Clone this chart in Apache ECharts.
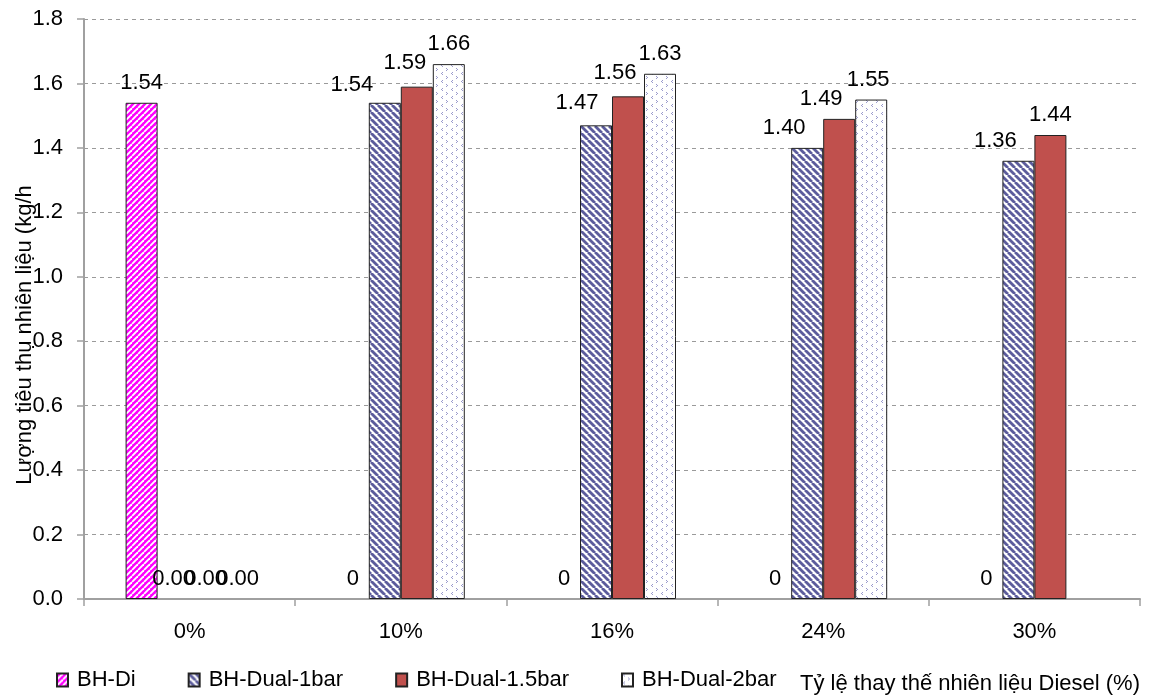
<!DOCTYPE html>
<html>
<head>
<meta charset="utf-8">
<script src="https://cdn.jsdelivr.net/npm/echarts@6/dist/echarts.min.js"></script>
<style>
html,body{margin:0;padding:0;background:#fff;}
#chart{width:1153px;height:700px;}
</style>
</head>
<body>
<div id="chart"></div>
<script>
// ---- data ----
const categories = ['0%', '10%', '16%', '24%', '30%'];
const seriesNames = ['BH-Di', 'BH-Dual-1bar', 'BH-Dual-1.5bar', 'BH-Dual-2bar'];
const valuesDi = [1.54, 0, 0, 0, 0];
const valuesDual1 = [0, 1.54, 1.47, 1.40, 1.36];
const valuesDual15 = [0, 1.59, 1.56, 1.49, 1.44];
const valuesDual2 = [0, 1.66, 1.63, 1.55, null];
const yTicks = { min: 0, max: 1.8, interval: 0.2 };
const xTitle = 'Tỷ lệ thay thế nhiên liệu Diesel (%)';
const yTitle = 'Lượng tiêu thụ nhiên liệu (kg/h';

// ---- styles (label nudges, like the hand-moved labels in the original) ----
const shiftDi = [[0,0],[0,0],[0,0],[0,0],[0,0]];
const shiftDual1 = [[0,0],[-33,2],[-19,-2],[-23,0],[-23,0]];
const shiftDual15 = [[0,0],[-12,-4],[-13,-3],[-18,0],[0,0]];
const shiftDual2 = [[0,0],[0,0],[0,0],[-3,0],[0,0]];

function makeStripe(bg, fg, dir, size, lw) {
  const c = document.createElement('canvas');
  c.width = size; c.height = size;
  const g = c.getContext('2d');
  g.fillStyle = bg; g.fillRect(0, 0, size, size);
  g.strokeStyle = fg; g.lineWidth = lw;
  for (let k = -1; k <= 1; k++) {
    g.beginPath();
    if (dir === '/') { g.moveTo(k*size, size); g.lineTo(k*size + size, 0); }
    else { g.moveTo(k*size, 0); g.lineTo(k*size + size, size); }
    g.stroke();
  }
  return { image: c, repeat: 'repeat' };
}
function makeDots() {
  const c = document.createElement('canvas');
  c.width = 10; c.height = 8;
  const g = c.getContext('2d');
  g.fillStyle = '#fff'; g.fillRect(0, 0, 10, 8);
  g.fillStyle = '#9a9acc';
  [[2,0],[1,1],[2,2],[6,4],[7,5],[6,6]].forEach(p => g.fillRect(p[0], p[1], 1, 1));
  return { image: c, repeat: 'repeat' };
}

const fills = [
  makeStripe('#ff00ff', '#ffffff', '/', 6, 1.9),
  makeStripe('#ffffff', '#5c5c9c', '\\', 7, 2.8),
  '#c0504d',
  makeDots()
];

const FONT = 'Liberation Sans';

function buildData(vals, shifts) {
  return vals.map((v, i) => {
    const d = { value: v, label: { offset: shifts[i] } };
    if (v === 0) d.itemStyle = { borderWidth: 0 };
    return d;
  });
}

const allVals = [valuesDi, valuesDual1, valuesDual15, valuesDual2];
const allShifts = [shiftDi, shiftDual1, shiftDual15, shiftDual2];

const series = seriesNames.map((name, s) => ({
  name: name,
  type: 'bar',
  barWidth: 32,
  barGap: '0%',
  data: buildData(allVals[s], allShifts[s]),
  itemStyle: { color: fills[s], borderColor: '#222', borderWidth: 1 },
  label: {
    show: true,
    position: 'top',
    distance: 9,
    color: '#000',
    fontFamily: FONT,
    fontSize: 22,
    formatter: p => {
      if (p.value === null || p.value === undefined) return '';
      if (s === 0 && p.value === 0) return '0';
      return Number(p.value).toFixed(2);
    }
  }
}));

const chart = echarts.init(document.getElementById('chart'), null, { renderer: 'canvas' });
chart.setOption({
  animation: false,
  backgroundColor: '#fff',
  grid: { left: 84, right: 13, top: 19, bottom: 101, containLabel: false },
  legend: {
    left: 51,
    top: 664,
    itemWidth: 11,
    itemHeight: 13,
    itemGap: 52,
    icon: 'rect',
    textStyle: { fontFamily: FONT, fontSize: 22, color: '#000', padding: [0, 0, 0, 4] },
    data: seriesNames
  },
  xAxis: {
    type: 'category',
    data: categories,
    axisLine: { show: true, lineStyle: { color: '#a0a0a0', width: 2 } },
    axisTick: { show: true, length: 7, alignWithLabel: false, lineStyle: { color: '#a0a0a0', width: 1.5 } },
    axisLabel: { margin: 22, fontFamily: FONT, fontSize: 22, color: '#000' },
    splitLine: { show: false }
  },
  yAxis: {
    type: 'value',
    min: yTicks.min,
    max: yTicks.max,
    interval: yTicks.interval,
    axisLine: { show: true, lineStyle: { color: '#a0a0a0', width: 2 } },
    axisTick: { show: true, length: 7, lineStyle: { color: '#a0a0a0', width: 1.5 } },
    axisLabel: { margin: 21, fontFamily: FONT, fontSize: 22, color: '#000', formatter: v => v.toFixed(1) },
    splitLine: { show: true, lineStyle: { color: '#9a9a9a', type: [4, 4], width: 1 } }
  },
  graphic: [
    {
      type: 'text',
      right: 13,
      top: 673,
      style: { text: xTitle, fontFamily: FONT, fontSize: 22, fill: '#000' }
    },
    {
      type: 'text',
      x: 25,
      y: 335,
      rotation: Math.PI / 2,
      style: { text: yTitle, fontFamily: FONT, fontSize: 22, fill: '#000', align: 'center', verticalAlign: 'middle' }
    }
  ],
  series: series
});
</script>
</body>
</html>
